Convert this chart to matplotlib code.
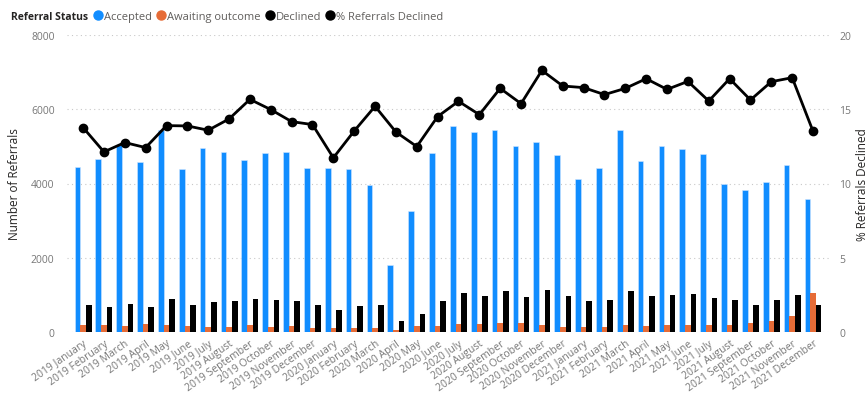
#
# referrals by month: accepted / awaiting / declined bars + % declined line
#

import numpy as np
import matplotlib
matplotlib.use("Agg")
import matplotlib.pyplot as plt
from matplotlib.lines import Line2D

plt.rcParams['font.family'] = ['Open Sans', 'DejaVu Sans']

months = ["January", "February", "March", "April", "May", "June", "July",
          "August", "September", "October", "November", "December"]
labels = [f"{y} {m}" for y in (2019, 2020, 2021) for m in months]

accepted = [4458, 4655, 5040, 4574, 5444, 4404, 4951, 4843, 4646, 4825, 4843, 4431,
            4422, 4404, 3955, 1794, 3265, 4825, 5552, 5399, 5444, 5014, 5112, 4780,
            4108, 4422, 5435, 4619, 5005, 4924, 4789, 3982, 3812, 4036, 4493, 3588]
awaiting = [197, 179, 152, 224, 197, 161, 143, 143, 179, 143, 152, 108,
            108, 108, 117, 63, 161, 152, 215, 215, 242, 233, 188, 143,
            126, 126, 179, 170, 179, 179, 197, 197, 242, 305, 422, 1058]
declined = [735, 664, 744, 673, 897, 735, 798, 834, 897, 870, 825, 735,
            592, 700, 726, 287, 484, 843, 1058, 960, 1112, 942, 1130, 978,
            825, 852, 1094, 978, 1005, 1022, 915, 852, 735, 870, 1005, 718]
pct_declined = [13.77, 12.13, 12.76, 12.42, 13.90, 13.88, 13.59, 14.35, 15.67, 14.98, 14.17, 13.97,
                11.73, 13.54, 15.20, 13.47, 12.49, 14.51, 15.54, 14.64, 16.41, 15.38, 17.62, 16.57,
                16.46, 15.99, 16.41, 17.06, 16.34, 16.88, 15.56, 17.06, 15.63, 16.86, 17.13, 13.52]

BLUE = "#118DFF"
ORANGE = "#E66C37"
BLACK = "#000000"
GREY = "#605E5C"
DARK = "#252423"

fig = plt.figure(figsize=(8.67, 4.10), dpi=100)
ax = fig.add_axes([0.0773, 0.188, 0.8797, 0.724])
ax2 = ax.twinx()

x = np.arange(len(labels))
w = 0.27
ax.bar(x - w, accepted, w, color=BLUE, edgecolor="#cfe6ff", linewidth=0.4, zorder=2)
ax.bar(x, awaiting, w, color=ORANGE, zorder=2)
ax.bar(x + w, declined, w, color=BLACK, zorder=2)

ax2.plot(x, pct_declined, color=BLACK, lw=2, marker="o", ms=6, zorder=3)

ax.set_xlim(-0.77, 35.8)
ax.set_ylim(0, 8000)
ax2.set_ylim(0, 20)
ax.set_yticks([0, 2000, 4000, 6000, 8000])
ax2.set_yticks([0, 5, 10, 15, 20])

ax.yaxis.grid(True, color="#c8c8c8", linestyle=(0, (1, 3)), linewidth=0.8)
ax.set_axisbelow(True)
for a in (ax, ax2):
    for s in a.spines.values():
        s.set_visible(False)
    a.tick_params(length=0, colors="#777777", labelsize=7.5)

ax.set_xticks(x)
ax.set_xticklabels(labels, rotation=35, ha="right", rotation_mode="anchor", fontsize=7.5)
ax.tick_params(axis="x", pad=4)
ax.tick_params(axis="y", pad=9)
ax2.tick_params(axis="y", pad=7)

ax.set_ylabel("Number of Referrals", color=DARK, fontsize=8.5, labelpad=7)
ax2.set_ylabel("% Referrals Declined", color=DARK, fontsize=8.5, labelpad=3)

# legend strip across the top
fig.text(0.013, 0.958, "Referral Status", fontsize=7.5, fontweight="bold",
         color=DARK, va="center")
handles = [Line2D([], [], ls="", marker="o", ms=6.5, color=c)
           for c in (BLUE, ORANGE, BLACK, BLACK)]
names = ["Accepted", "Awaiting outcome", "Declined", "% Referrals Declined"]
fig.legend(handles, names, loc="center left", bbox_to_anchor=(0.109, 0.958),
           ncol=4, frameon=False, fontsize=8, handlelength=0.7,
           handletextpad=0.15, columnspacing=0.5, borderpad=0, borderaxespad=0,
           labelcolor=GREY)

fig.savefig("out.png", dpi=100)
